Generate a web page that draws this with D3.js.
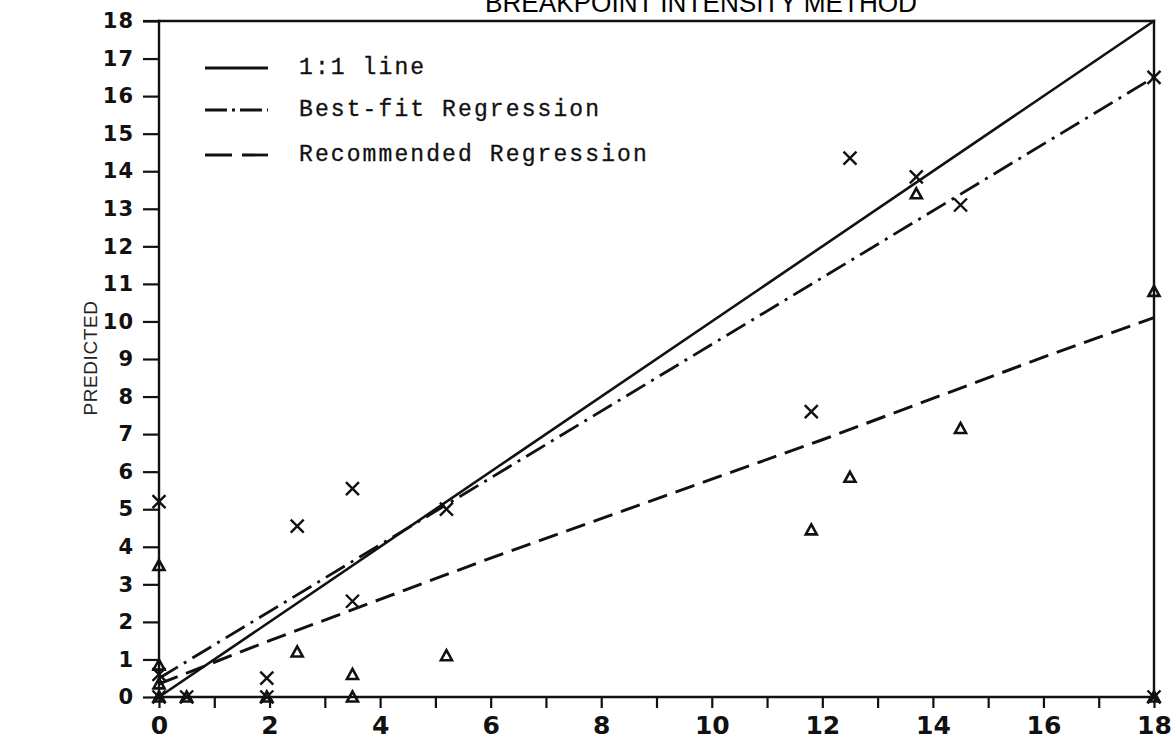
<!DOCTYPE html>
<html lang="en">
  <head>
    <meta charset="UTF-8" />
    <title>Breakpoint Intensity Method</title>
    <style>
      body { margin: 0; background: #fff; }
      svg { display: block; }
      .ylab text { font-family: "DejaVu Sans", sans-serif; font-weight: bold; font-size: 21px; letter-spacing: 1px; }
      .xlab text { font-family: "DejaVu Sans", sans-serif; font-weight: bold; font-size: 25px; }
      .legend text { font-family: "Liberation Mono", "Courier New", monospace; font-size: 23px; letter-spacing: 2.1px; stroke: #111; stroke-width: 0.3px; }
    </style>
  </head>

  <body>

    <script src="https://cdn.jsdelivr.net/npm/d3@7/dist/d3.min.js"></script>
    <script>
    // values
    var xTickValues = [0, 1, 2, 3, 4, 5, 6, 7, 8, 9, 10, 11, 12, 13, 14, 15, 16, 17, 18];
    var xTickLabels = ["0", "", "2", "", "4", "", "6", "", "8", "", "10", "", "12", "", "14", "", "16", "", "18"];
    var yTickValues = [0, 1, 2, 3, 4, 5, 6, 7, 8, 9, 10, 11, 12, 13, 14, 15, 16, 17, 18];

    // x marks
    var crossPoints = [
      [0, 5.2], [0, 0.6], [0, 0], [0.5, 0], [1.95, 0], [1.95, 0.5],
      [2.5, 4.55], [3.5, 5.55], [3.5, 2.55], [5.2, 5.0], [11.8, 7.6],
      [12.5, 14.35], [13.7, 13.85], [14.5, 13.1], [18, 16.5], [18, 0]
    ];
    // triangle marks
    var trianglePoints = [
      [0, 3.5], [0, 0.85], [0, 0.35], [0, 0], [0.5, 0], [1.95, 0],
      [2.5, 1.2], [3.5, 0.6], [3.5, 0], [5.2, 1.1], [11.8, 4.45],
      [12.5, 5.85], [13.7, 13.4], [14.5, 7.15], [18, 10.8], [18, 0]
    ];

    var oneToOne = [[0, 0], [18, 18]];
    var bestFit = [[0, 0.5], [18, 16.5]];
    var recommended = [[0, 0.35], [2, 1.5], [4, 2.6], [6, 3.7], [8, 4.75],
                       [10, 5.8], [12, 6.85], [14, 7.95], [16, 9.05], [18, 10.1]];

    var legendNames = ["1:1 line", "Best-fit Regression", "Recommended Regression"];

    var width = 1174;
    var height = 740;
    var margin = { top: 21, right: 20, bottom: 43, left: 159 };

    var svg = d3.select("body").append("svg")
                .attr("width", width)
                .attr("height", height);

    var xScale = d3.scaleLinear()
                   .domain([0, 18])
                   .range([margin.left, width - margin.right]);

    var yScale = d3.scaleLinear()
                   .domain([0, 18])
                   .range([height - margin.bottom, margin.top]);

    // title, cut off at the top edge of the scan
    svg.append("text")
       .attr("x", 701)
       .attr("y", 12)
       .attr("text-anchor", "middle")
       .attr("textLength", 432)
       .attr("lengthAdjust", "spacingAndGlyphs")
       .style("font-family", "'Liberation Sans', Arial, sans-serif")
       .style("font-size", "27px")
       .text("BREAKPOINT INTENSITY METHOD");

    svg.append("text")
       .attr("transform", "translate(97," + 358 + ") rotate(-90)")
       .attr("text-anchor", "middle")
       .style("font-family", "'Liberation Sans', Arial, sans-serif")
       .style("font-size", "19px")
       .style("letter-spacing", "0.6px")
       .attr("fill", "#222")
       .text("PREDICTED");

    var yAxis = d3.axisLeft(yScale)
                  .tickValues(yTickValues)
                  .tickSize(16)
                  .tickPadding(9)
                  .tickFormat(d3.format("d"));

    svg.append("g")
       .attr("class", "ylab")
       .attr("transform", "translate(" + margin.left + ",0)")
       .call(yAxis);

    var xAxis = d3.axisBottom(xScale)
                  .tickValues(xTickValues)
                  .tickSize(11)
                  .tickPadding(8)
                  .tickFormat(function(d, i) { return xTickLabels[i]; });

    svg.append("g")
       .attr("class", "xlab")
       .attr("transform", "translate(0," + (height - margin.bottom) + ")")
       .call(xAxis);

    svg.selectAll(".domain").remove();
    svg.selectAll(".tick line").attr("stroke", "#111").attr("stroke-width", 2.2);
    svg.selectAll(".tick text").attr("fill", "#111");

    // frame: left, bottom, top, right
    var frame = [
      [[0, 0], [0, 18]],
      [[0, 0], [18, 0]],
      [[0, 18], [18, 18]],
      [[18, 0], [18, 18]]
    ];
    svg.selectAll(".frame")
       .data(frame)
       .enter()
       .append("line")
       .attr("class", "frame")
       .attr("x1", function(d) { return xScale(d[0][0]); })
       .attr("y1", function(d) { return yScale(d[0][1]); })
       .attr("x2", function(d) { return xScale(d[1][0]); })
       .attr("y2", function(d) { return yScale(d[1][1]); })
       .attr("stroke", "#111")
       .attr("stroke-width", 2.4)
       .attr("stroke-linecap", "square");
    // top line runs out to the 18 tick
    svg.append("line")
       .attr("x1", margin.left - 16).attr("x2", margin.left)
       .attr("y1", yScale(18)).attr("y2", yScale(18))
       .attr("stroke", "#111").attr("stroke-width", 2.2);

    var line = d3.line()
                 .x(function(d) { return xScale(d[0]); })
                 .y(function(d) { return yScale(d[1]); });

    var styles = [
      { data: oneToOne, dash: null, w: 2.6 },
      { data: bestFit, dash: "22,7,3,7", w: 2.8 },
      { data: recommended, dash: "20,9", w: 3 }
    ];

    svg.selectAll(".fit")
       .data(styles)
       .enter()
       .append("path")
       .attr("class", "fit")
       .attr("d", function(d) { return line(d.data); })
       .attr("fill", "none")
       .attr("stroke", "#111")
       .attr("stroke-width", function(d) { return d.w; })
       .attr("stroke-dasharray", function(d) { return d.dash; });

    // markers
    svg.selectAll(".cross")
       .data(crossPoints)
       .enter()
       .append("path")
       .attr("class", "cross")
       .attr("transform", function(d) {
         return "translate(" + xScale(d[0]) + "," + yScale(d[1]) + ")";
       })
       .attr("d", "M-6.5,-6.5L6.5,6.5M-6.5,6.5L6.5,-6.5")
       .attr("stroke", "#111")
       .attr("stroke-width", 2.4)
       .attr("fill", "none");

    svg.selectAll(".tri")
       .data(trianglePoints)
       .enter()
       .append("path")
       .attr("class", "tri")
       .attr("transform", function(d) {
         return "translate(" + xScale(d[0]) + "," + yScale(d[1]) + ")";
       })
       .attr("d", "M0,-5.5L5.5,4.5L-5.5,4.5Z")
       .attr("stroke", "#111")
       .attr("stroke-width", 2.6)
       .attr("fill", "none");

    // legend
    var legend = svg.append("g").attr("class", "legend");
    var legendY = [68, 110, 155];
    var legendDash = [null, "22,5,3,5", "27,10"];

    legend.selectAll("line")
          .data(legendNames)
          .enter()
          .append("line")
          .attr("x1", 205)
          .attr("x2", 268)
          .attr("y1", function(d, i) { return legendY[i]; })
          .attr("y2", function(d, i) { return legendY[i]; })
          .attr("stroke", "#111")
          .attr("stroke-width", 2.8)
          .attr("stroke-dasharray", function(d, i) { return legendDash[i]; });

    legend.selectAll("text")
          .data(legendNames)
          .enter()
          .append("text")
          .attr("x", 299)
          .attr("y", function(d, i) { return legendY[i] + 6; })
          .attr("fill", "#111")
          .text(function(d) { return d; });

    </script>
  </body>
</html>
